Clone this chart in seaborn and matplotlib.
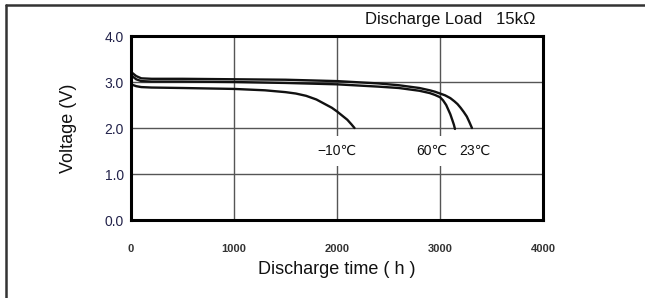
import numpy as np
import pandas as pd
import seaborn as sns
import matplotlib.pyplot as plt
from matplotlib.lines import Line2D

# discharge curves (time in h, voltage in V)
t_23 = [0, 50, 100, 200, 500, 1000, 1500, 2000, 2400, 2600, 2800, 2900, 2950, 3000, 3050, 3100,
        3140, 3170, 3200, 3230, 3260, 3285, 3310]
v_23 = [3.22, 3.13, 3.08, 3.07, 3.07, 3.06, 3.05, 3.02, 2.97, 2.93, 2.87, 2.82, 2.79, 2.75, 2.71, 2.65,
        2.58, 2.52, 2.44, 2.35, 2.25, 2.13, 2.00]
t_60 = [0, 50, 100, 200, 500, 1000, 1500, 2000, 2400, 2600, 2800, 2900, 2950, 3000, 3030, 3060,
        3080, 3100, 3120, 3135, 3145]
v_60 = [3.15, 3.06, 3.02, 3.01, 3.01, 3.00, 2.98, 2.95, 2.90, 2.87, 2.81, 2.76, 2.72, 2.67, 2.60, 2.50,
        2.40, 2.30, 2.17, 2.07, 1.98]
t_m10 = [0, 50, 100, 200, 500, 1000, 1300, 1500, 1600, 1700, 1800, 1850, 1900, 1950, 2000, 2050,
         2100, 2140, 2170]
v_m10 = [2.95, 2.91, 2.89, 2.88, 2.87, 2.85, 2.82, 2.78, 2.75, 2.70, 2.62, 2.56, 2.50, 2.44, 2.36, 2.27,
         2.18, 2.08, 2.00]

labels = ['\u221210\u2103', '60\u2103', '23\u2103']
label_x = [2000, 2920, 3340]
x_ticks = [0, 1000, 2000, 3000, 4000]
y_ticks = [0.0, 1.0, 2.0, 3.0, 4.0]

df = pd.concat([
    pd.DataFrame({'time': t_23, 'volt': v_23, 'temp': '23'}),
    pd.DataFrame({'time': t_60, 'volt': v_60, 'temp': '60'}),
    pd.DataFrame({'time': t_m10, 'volt': v_m10, 'temp': '-10'}),
])

sns.set_style('white')
plt.rcParams['font.family'] = ['Liberation Sans', 'DejaVu Sans']

fig = plt.figure(figsize=(6.45, 2.98), dpi=100)
ax = fig.add_axes([0.2031, 0.2617, 0.6388, 0.6174])

ax.set_axisbelow(True)
ax.grid(True, color='#555555', linewidth=1.0)
sns.lineplot(data=df, x='time', y='volt', units='temp', estimator=None, sort=False,
             color='#111111', linewidth=1.7, ax=ax)

ax.set_xlim(0, 4000)
ax.set_ylim(0, 4.0)
ax.set_xticks(x_ticks)
ax.set_yticks(y_ticks)
ax.set_xticklabels([str(x) for x in x_ticks], fontsize=8, color='#333333', fontweight='bold')
ax.set_yticklabels(['%.1f' % y for y in y_ticks], fontsize=10, color='#22224a')
ax.tick_params(axis='x', length=0, pad=17)
ax.tick_params(axis='y', length=0, pad=5)
for s in ax.spines.values():
    s.set_visible(True)
    s.set_color('black')
    s.set_linewidth(2.2)

ax.set_xlabel('Discharge time ( h )', fontsize=13, color='#111111', labelpad=5)
ax.set_ylabel('Voltage (V)', fontsize=13, color='#111111', labelpad=20)

for lab, lx in zip(labels, label_x):
    ax.text(lx, 1.50, lab, fontsize=10, ha='center', va='center', color='#111111',
            bbox=dict(facecolor='white', edgecolor='none', pad=6))

fig.text(0.566, 0.935, 'Discharge Load   15k\u03a9', fontsize=12, ha='left', va='center',
         color='#111111')

# outer frame (left and top edges visible)
fig.add_artist(Line2D([0.0093, 0.0093], [0, 0.983], transform=fig.transFigure,
                      color='#333333', linewidth=1.8))
fig.add_artist(Line2D([0.0093, 1.0], [0.983, 0.983], transform=fig.transFigure,
                      color='#333333', linewidth=1.8))

fig.savefig('out.png', dpi=100)
